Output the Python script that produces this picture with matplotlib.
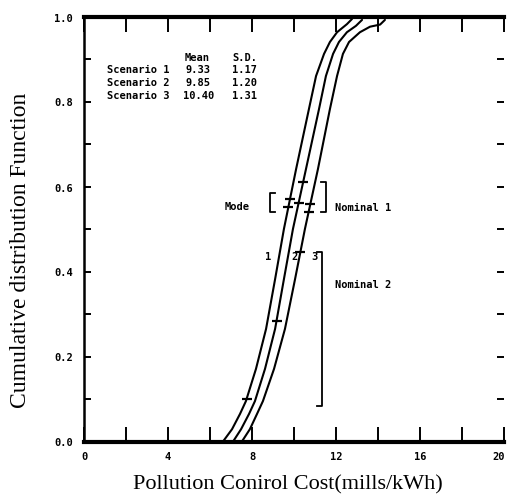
import matplotlib
matplotlib.use("Agg")
import matplotlib.pyplot as plt
import matplotlib.transforms as mtransforms
import numpy as np

# ---- data ----
x_s1 = [6.62, 7.05, 7.43, 7.71, 8.19, 8.67, 9.10, 9.52, 10.10, 10.71, 11.05, 11.43, 11.71, 12.05, 12.52, 12.76]
y_s1 = [0.0, 0.029, 0.065, 0.095, 0.171, 0.265, 0.382, 0.5, 0.641, 0.782, 0.86, 0.912, 0.94, 0.963, 0.982, 0.994]

x_s2 = [7.10, 7.48, 7.86, 8.14, 8.62, 9.10, 9.52, 9.95, 10.57, 11.19, 11.52, 11.86, 12.14, 12.52, 12.95, 13.24]
y_s2 = [0.0, 0.029, 0.065, 0.095, 0.171, 0.265, 0.382, 0.5, 0.641, 0.782, 0.86, 0.912, 0.94, 0.963, 0.978, 0.992]

x_s3 = [7.52, 7.90, 8.24, 8.52, 9.05, 9.57, 10.05, 10.52, 11.14, 11.71, 12.05, 12.33, 12.62, 13.14, 13.62, 14.10, 14.33]
y_s3 = [0.0, 0.029, 0.065, 0.095, 0.171, 0.265, 0.382, 0.5, 0.641, 0.782, 0.86, 0.912, 0.94, 0.963, 0.976, 0.981, 0.992]

# heights of the short dash marks on each curve (mode / nominal points)
mark_y1 = [0.571, 0.552, 0.1]
mark_y2 = [0.611, 0.561, 0.284]
mark_y3 = [0.559, 0.54, 0.446]

scen_names = ["Scenario 1", "Scenario 2", "Scenario 3"]
scen_mean = ["9.33", "9.85", "10.40"]
scen_sd = ["1.17", "1.20", "1.31"]

x_ticks_major = [0, 4, 8, 12, 16, 20]
y_ticks_major = [0.0, 0.2, 0.4, 0.6, 0.8, 1.0]

# ---- figure ----
W, H = 508, 502
fig = plt.figure(figsize=(W / 100, H / 100), dpi=100)
L, R, B, T = 84, 504, 442.5, 17.5
ax = fig.add_axes([L / W, (H - B) / H, (R - L) / W, (B - T) / H])
ax.set_xlim(0, 20)
ax.set_ylim(0, 1.0)

lw = 1.5
curves = [(x_s1, y_s1, mark_y1), (x_s2, y_s2, mark_y2), (x_s3, y_s3, mark_y3)]
for xs, ys, my in curves:
    ax.plot(xs, ys, color="black", lw=lw, solid_joinstyle="round",
            solid_capstyle="round", clip_on=False)
    mx = np.interp(my, ys, xs)
    ax.plot(mx, my, ls="none", marker="_", ms=7, mew=1.6, color="black")

# spines
ax.spines["right"].set_visible(False)
ax.spines["top"].set_linewidth(3.0)
ax.spines["bottom"].set_linewidth(3.0)
ax.spines["left"].set_linewidth(1.8)

tick_font = dict(family="DejaVu Sans Mono", weight="bold", size=7.5)
ax.set_xticks(x_ticks_major)
ax.set_xticklabels([str(v) for v in x_ticks_major], **tick_font)
ax.set_xticks(np.arange(0, 21, 2), minor=True)
ax.set_yticks(y_ticks_major)
ax.set_yticklabels([f"{v:.1f}" for v in y_ticks_major], **tick_font)
ax.set_yticks(np.arange(0, 1.01, 0.1), minor=True)

ax.tick_params(axis="x", which="both", direction="in", length=11, width=1.4,
               top=True, bottom=True, pad=7)
ax.tick_params(axis="y", which="both", direction="in", length=5, width=1.4,
               left=True, right=True, pad=8)

# keep the last x label inside the picture
lab20 = ax.get_xticklabels()[-1]
lab20.set_transform(lab20.get_transform() +
                    mtransforms.ScaledTranslation(-5 / 100, 0, fig.dpi_scale_trans))

ax.set_xlabel("Pollution Conirol Cost(mills/kWh)", family="Liberation Serif",
              fontsize=16)
ax.xaxis.set_label_coords(0.486, -0.078)
ax.set_ylabel("Cumulative distribution Function", family="Liberation Serif",
              fontsize=17)
ax.yaxis.set_label_coords(-0.125, 0.453)

# ---- annotations ----
tf = dict(family="DejaVu Sans Mono", weight="bold", fontsize=7.5, va="center")
ax.text(4.81, 0.905, "Mean", **tf)
ax.text(7.05, 0.905, "S.D.", **tf)
rows_y = [0.876, 0.846, 0.815]
for name, m, s, yy in zip(scen_names, scen_mean, scen_sd, rows_y):
    ax.text(1.1, yy, name, **tf)
    ax.text(4.72 if len(m) > 4 else 4.81, yy, m, **tf)
    ax.text(7.05, yy, s, **tf)

ax.text(8.76, 0.436, "1", ha="center", **tf)
ax.text(10.0, 0.436, "2", ha="center", **tf)
ax.text(10.95, 0.436, "3", ha="center", **tf)
ax.text(6.71, 0.554, "Mode", **tf)
ax.text(11.95, 0.552, "Nominal 1", **tf)
ax.text(11.95, 0.37, "Nominal 2", **tf)

# brackets
def bracket(x, y0, y1, side):
    d = 0.25 * side
    ax.plot([x + d, x, x, x + d], [y1, y1, y0, y0], color="black", lw=1.3)

bracket(8.86, 0.54, 0.585, +1)
bracket(11.52, 0.54, 0.61, -1)
bracket(11.33, 0.083, 0.446, -1)

fig.savefig("out.png", dpi=100)
